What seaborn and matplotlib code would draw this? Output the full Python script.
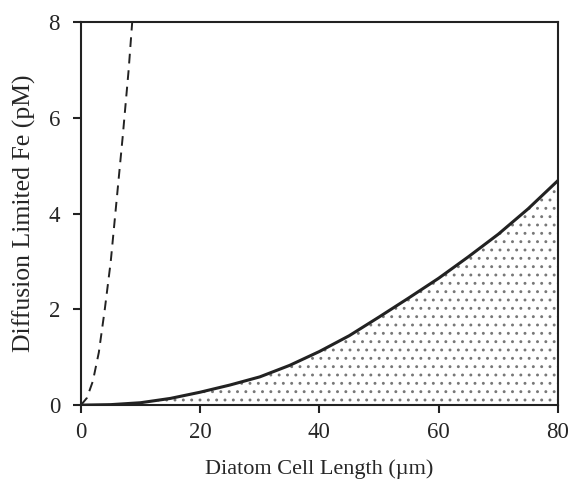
import numpy as np
import pandas as pd
import matplotlib
matplotlib.use("Agg")
import matplotlib.pyplot as plt
import seaborn as sns

# Values
cell_length = [0, 5, 10, 15, 20, 25, 30, 35, 40, 45, 50, 55, 60, 65, 70, 75, 80]
fe_solid = [0, 0.01, 0.05, 0.14, 0.27, 0.42, 0.59, 0.83, 1.12, 1.45, 1.84,
            2.24, 2.65, 3.10, 3.57, 4.10, 4.69]

dash_length = [0, 1, 2, 3, 4, 5, 6, 7, 8, 8.6]
fe_dashed = [0, 0.15, 0.5, 1.1, 2.0, 3.0, 4.3, 5.6, 7.0, 8.0]

solid_df = pd.DataFrame({"length": cell_length, "fe": fe_solid})
dashed_df = pd.DataFrame({"length": dash_length, "fe": fe_dashed})

sns.set_style("white")
plt.rcParams["font.family"] = ["Liberation Serif", "DejaVu Serif"]
plt.rcParams["hatch.color"] = "#777777"
plt.rcParams["hatch.linewidth"] = 0.9

fig = plt.figure(figsize=(5.74, 4.8), dpi=100)
ax = fig.add_axes([0.141, 0.156, 0.831, 0.798])

# stippled area under the solid curve
ax.fill_between(solid_df["length"], 0, solid_df["fe"], facecolor="white",
                edgecolor="#777777", hatch="..", linewidth=0)

sns.lineplot(data=solid_df, x="length", y="fe", ax=ax, color="#222222",
             linewidth=2.2)
sns.lineplot(data=dashed_df, x="length", y="fe", ax=ax, color="#222222",
             linewidth=1.4, linestyle=(0, (5, 3.5)))

ax.set_xlim(0, 80)
ax.set_ylim(0, 8)
ax.set_xticks([0, 20, 40, 60, 80])
ax.set_yticks([0, 2, 4, 6, 8])
ax.set_xlabel("Diatom Cell Length (µm)", fontsize=16, labelpad=12)
ax.set_ylabel("Diffusion Limited Fe (pM)", fontsize=18.5, labelpad=9)
ax.tick_params(axis="both", which="major", direction="out", length=6,
               width=1.5, labelsize=16.5, color="#222222",
               bottom=True, left=True)
ax.tick_params(axis="x", pad=6)
ax.tick_params(axis="y", pad=9)

for side in ["top", "right", "bottom", "left"]:
    ax.spines[side].set_visible(True)
    ax.spines[side].set_color("#222222")
    ax.spines[side].set_linewidth(1.5)

fig.savefig("out.png", dpi=100, facecolor="white")
